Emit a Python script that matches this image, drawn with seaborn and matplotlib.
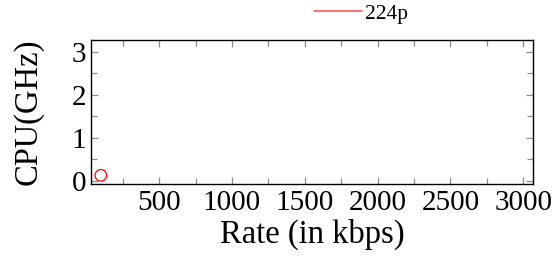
import matplotlib
matplotlib.use("Agg")
import matplotlib.pyplot as plt
import seaborn as sns
import pandas as pd
from matplotlib.lines import Line2D
from matplotlib.ticker import MultipleLocator

# data
rate = [100]
cpu = [0.13]
series = ["224p"]

df = pd.DataFrame({"rate": rate, "cpu": cpu, "res": series})

sns.set_style("ticks")
plt.rcParams["font.family"] = ["Liberation Serif", "DejaVu Serif"]
plt.rcParams["text.color"] = "black"
plt.rcParams["axes.labelcolor"] = "black"

fig = plt.figure(figsize=(5.58, 2.75), dpi=100)
ax = fig.add_axes([0.163, 0.331, 0.792, 0.525])

sns.scatterplot(data=df, x="rate", y="cpu", ax=ax, s=70, marker="o",
                facecolors="none", edgecolor="red", linewidth=0.9, legend=False)

ax.set_xlim(32, 3066)
ax.set_ylim(-0.07, 3.28)
ax.xaxis.set_major_locator(MultipleLocator(500))
ax.xaxis.set_minor_locator(MultipleLocator(250))
ax.yaxis.set_major_locator(MultipleLocator(1))
ax.yaxis.set_minor_locator(MultipleLocator(0.5))
ax.tick_params(which="both", direction="in", top=True, right=True,
               color="0.55", labelsize=21, labelcolor="black")
ax.tick_params(which="major", length=5, width=0.9)
ax.tick_params(which="minor", length=4, width=0.9)
ax.tick_params(axis="x", pad=4)
ax.set_xticks([500, 1000, 1500, 2000, 2500, 3000])
ax.set_yticks([0, 1, 2, 3])
for s in ax.spines.values():
    s.set_color("black")
    s.set_linewidth(1.0)

ax.set_xlabel("Rate (in kbps)", fontsize=23.5, labelpad=2)
ax.set_ylabel("CPU(GHz)", fontsize=23.5, labelpad=20)

handles = [Line2D([0], [0], color="#ff5a5a", lw=1.2) for _ in series]
fig.legend(handles, series, loc="center left", bbox_to_anchor=(0.563, 0.95),
           frameon=False, fontsize=15.5, handlelength=2.2, handletextpad=0.15,
           borderaxespad=0, borderpad=0)

fig.savefig("out.png", dpi=100)
